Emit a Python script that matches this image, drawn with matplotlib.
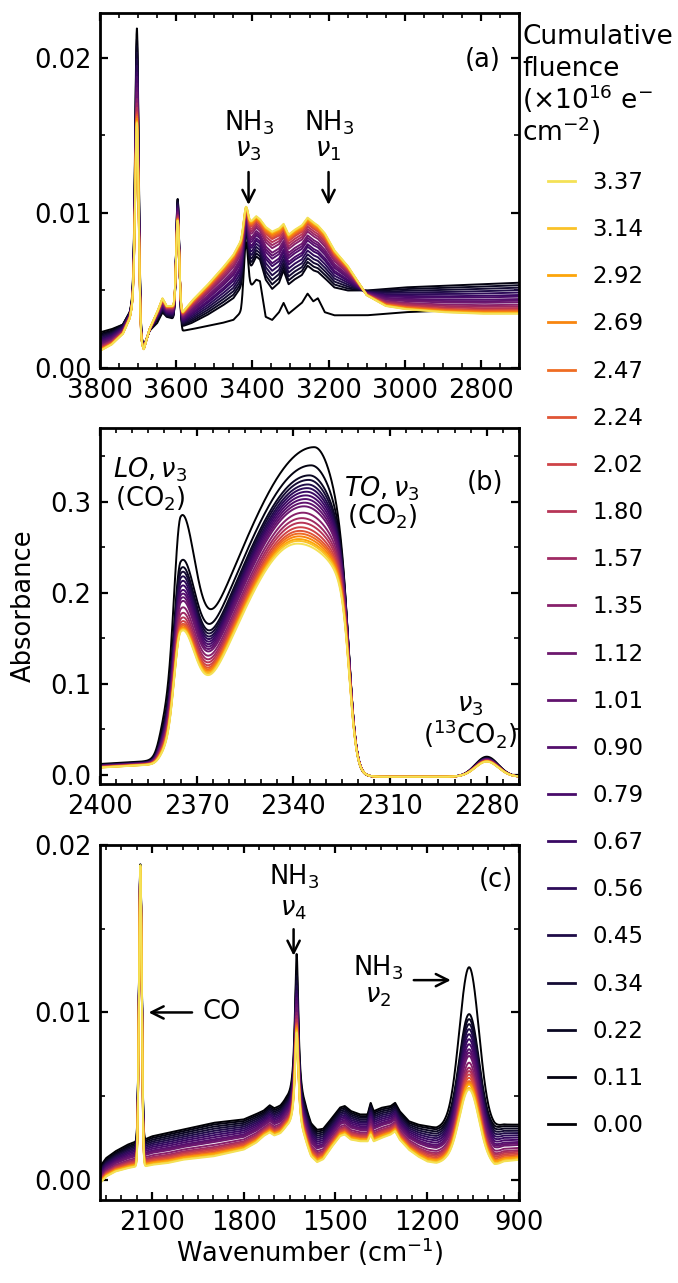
import numpy as np
import matplotlib
matplotlib.use("Agg")
import matplotlib.pyplot as plt
from matplotlib.ticker import MultipleLocator

plt.rcParams['font.family'] = ['DejaVu Sans']
plt.rcParams['mathtext.fontset'] = 'dejavusans'

# ---------------- data ----------------
fluence = [0.00, 0.11, 0.22, 0.34, 0.45, 0.56, 0.67, 0.79, 0.90, 1.01, 1.12,
           1.35, 1.57, 1.80, 2.02, 2.24, 2.47, 2.69, 2.92, 3.14, 3.37]

# panel (a): broad-band level near 3340 cm-1 for each spectrum
band_a = [0.0031, 0.0051, 0.0054, 0.0057, 0.0060, 0.0063, 0.0066, 0.0068, 0.0071,
          0.0073, 0.0075, 0.0078, 0.0080, 0.0082, 0.0084, 0.0085, 0.0086, 0.0087,
          0.0088, 0.00885, 0.0089]
a_knot_x = [3800, 3770, 3740, 3722, 3712, 3703, 3692, 3685, 3670, 3650, 3636, 3625,
            3610, 3596, 3583, 3560, 3520, 3480, 3450, 3430, 3417, 3405, 3390, 3380,
            3365, 3348, 3330, 3318, 3305, 3290, 3270, 3255, 3240, 3228, 3210, 3185,
            3150, 3100, 3050, 3000, 2900, 2800, 2700]
a_black_y = [0.0023, 0.0025, 0.0028, 0.0036, 0.0048, 0.0040, 0.0018, 0.0014, 0.0024,
             0.0029, 0.0036, 0.0034, 0.0033, 0.0033, 0.0024, 0.0025, 0.0027, 0.0029,
             0.0031, 0.0036, 0.0046, 0.0052, 0.0057, 0.0056, 0.0033, 0.0031, 0.0036,
             0.0042, 0.0035, 0.0038, 0.0042, 0.0048, 0.0043, 0.0045, 0.0036, 0.0034,
             0.0034, 0.0034, 0.0035, 0.0036, 0.0037, 0.0037, 0.0037]
a_dark_y = [0.0022, 0.0024, 0.0028, 0.0036, 0.0046, 0.0040, 0.0018, 0.0014, 0.0024,
            0.0031, 0.0036, 0.0033, 0.0032, 0.0032, 0.0027, 0.0029, 0.0034, 0.0040,
            0.0045, 0.0052, 0.0060, 0.0064, 0.0072, 0.0070, 0.0057, 0.0051, 0.0055,
            0.0063, 0.0054, 0.0057, 0.0060, 0.0066, 0.0063, 0.0062, 0.0058, 0.0052,
            0.0050, 0.0050, 0.0051, 0.0052, 0.0053, 0.0054, 0.0055]
a_yellow_y = [0.0011, 0.0015, 0.0022, 0.0032, 0.0044, 0.0040, 0.0016, 0.0012, 0.0025,
              0.0036, 0.0045, 0.0040, 0.0040, 0.0040, 0.0036, 0.0043, 0.0053, 0.0064,
              0.0073, 0.0082, 0.0092, 0.0094, 0.0098, 0.0096, 0.0091, 0.0088, 0.0090,
              0.0093, 0.0086, 0.0089, 0.0092, 0.0097, 0.0094, 0.0092, 0.0087, 0.0076,
              0.0066, 0.0047, 0.0040, 0.0038, 0.0036, 0.0035, 0.0035]
a_peak_x = [3703, 3596, 3417]
a_peak_w = [4.5, 4.0, 5.5]
a_peak_black = [0.0179, 0.0076, 0.0035]
a_peak_dark = [0.0172, 0.0077, 0.0027]
a_peak_yellow = [0.0118, 0.0055, 0.0012]

# panel (b): peak heights of the CO2 nu3 TO and LO modes
to_peak = [0.362, 0.342, 0.331, 0.326, 0.321, 0.317, 0.313, 0.309, 0.305, 0.301,
           0.297, 0.290, 0.284, 0.279, 0.274, 0.270, 0.267, 0.264, 0.261, 0.259, 0.256]
lo_peak = [0.2835, 0.234, 0.226, 0.221, 0.216, 0.211, 0.206, 0.201, 0.197, 0.193,
           0.189, 0.182, 0.176, 0.171, 0.167, 0.164, 0.162, 0.160, 0.159, 0.158, 0.157]

# panel (c): NH3 nu2 / nu4 peak heights
nu2_peak = [0.0126, 0.0099, 0.0096, 0.0093, 0.0090, 0.0087, 0.0084, 0.0081, 0.0078,
            0.0076, 0.0074, 0.0070, 0.0067, 0.0065, 0.0063, 0.0061, 0.0059, 0.0058,
            0.0057, 0.0055, 0.0054]
nu4_peak = [0.0134, 0.0125, 0.0122, 0.0119, 0.0116, 0.0113, 0.0111, 0.0109, 0.0107,
            0.0105, 0.0103, 0.0100, 0.0098, 0.0096, 0.0094, 0.0093, 0.0092, 0.0091,
            0.0090, 0.0089, 0.0088]
c_knot_x = [2270, 2250, 2220, 2180, 2150, 2125, 2100, 2050, 2000, 1950, 1900, 1850,
            1800, 1760, 1735, 1715, 1700, 1680, 1660, 1627, 1600, 1580, 1560, 1540,
            1510, 1485, 1470, 1450, 1420, 1395, 1385, 1375, 1350, 1320, 1305, 1290,
            1260, 1230, 1200, 1170, 1140, 1063, 1000, 980, 950, 900]
c_dark_y = [0.0007, 0.0012, 0.0016, 0.0020, 0.0022, 0.0023, 0.0025, 0.0027, 0.0029,
            0.0031, 0.0033, 0.0034, 0.0035, 0.0038, 0.0040, 0.0043, 0.0041, 0.0042,
            0.0045, 0.0045, 0.0040, 0.0031, 0.0028, 0.0029, 0.0036, 0.0042, 0.0043,
            0.0040, 0.0038, 0.0038, 0.0045, 0.0040, 0.0042, 0.0043, 0.0045, 0.0040,
            0.0034, 0.0032, 0.0031, 0.0030, 0.0031, 0.0031, 0.0030, 0.0030, 0.0032, 0.0032]
c_yellow_y = [-0.0002, 0.0002, 0.0005, 0.0007, 0.0008, 0.0008, 0.0009, 0.0010, 0.0012,
              0.0013, 0.0014, 0.0016, 0.0018, 0.0022, 0.0026, 0.0028, 0.0026, 0.0027,
              0.0030, 0.0030, 0.0022, 0.0013, 0.0010, 0.0012, 0.0020, 0.0026, 0.0027,
              0.0024, 0.0023, 0.0023, 0.0027, 0.0023, 0.0025, 0.0027, 0.0029, 0.0024,
              0.0018, 0.0014, 0.0011, 0.0010, 0.0011, 0.0011, 0.0009, 0.0008, 0.0011, 0.0012]
co_peak = [0.0165, 0.018]

labels = [f"{f:.2f}" for f in fluence]

# ---------------- helpers ----------------
def gauss(x, c, s, a):
    return a * np.exp(-(x - c) ** 2 / (2 * s ** 2))

def agauss(x, c, sl, sr, a):
    s = np.where(x > c, sl, sr)
    return a * np.exp(-(x - c) ** 2 / (2 * s ** 2))

def lorentz(x, c, g, a):
    return a / (1 + ((x - c) / g) ** 2)

def knots(x, kx, ky):
    return np.interp(x, kx[::-1], ky[::-1])

n = len(fluence)
cmap = plt.cm.inferno
colors = [cmap(0.92 * f / fluence[-1]) for f in fluence]
LW = 1.4

FS = 18.5
fig = plt.figure(figsize=(6.78, 12.83), dpi=100)
W, H = 678, 1283
axa = fig.add_axes([100 / W, 1 - 368 / H, 419 / W, 355 / H])
axb = fig.add_axes([100 / W, 1 - 784 / H, 419 / W, 356 / H])
axc = fig.add_axes([100 / W, 1 - 1200 / H, 419 / W, 355 / H])

# ---------------- panel (a) ----------------
xa = np.linspace(3800, 2700, 2500)
wa = [(v - band_a[1]) / (band_a[-1] - band_a[1]) for v in band_a]
for i in range(n):
    if i == 0:
        y = knots(xa, a_knot_x, a_black_y)
        amps = a_peak_black
    else:
        w = wa[i]
        y = knots(xa, a_knot_x, a_dark_y) * (1 - w) + knots(xa, a_knot_x, a_yellow_y) * w
        amps = [d * (1 - w) + yy * w for d, yy in zip(a_peak_dark, a_peak_yellow)]
    for c, s, a in zip(a_peak_x, a_peak_w, amps):
        y = y + gauss(xa, c, s, a)
    axa.plot(xa, y, color=colors[i], lw=LW)
axa.set_xlim(3800, 2700)
axa.set_ylim(0, 0.0229)
axa.xaxis.set_major_locator(MultipleLocator(200))
axa.xaxis.set_minor_locator(MultipleLocator(50))
axa.yaxis.set_major_locator(MultipleLocator(0.01))
axa.yaxis.set_minor_locator(MultipleLocator(0.005))

# ---------------- panel (b) ----------------
xb = np.linspace(2400, 2270, 2000)
wb = [(to_peak[0] - v) / (to_peak[0] - to_peak[-1]) for v in to_peak]

def to_band(x, A, c, sl, sr):
    g = np.where(x > c, np.exp(-(x - c) ** 2 / (2 * sl ** 2)), np.exp(-(x - c) ** 2 / (2 * sr ** 2)))
    cut_l = 1 / (1 + np.exp((x - 2381.5) / 1.0))
    cut_r = 1 / (1 + np.exp(-(x - 2322.5) / 1.2))
    return A * g * cut_l * cut_r

def base_b(x, L):
    s = 1 / (1 + np.exp(-(x - 2381.0) / 1.0))
    lx = L + 0.0002 * (2400 - x)
    return -0.002 + (lx + 0.002) * s

for i in range(n):
    w = wb[i]
    c = 2333.5 + (2338.7 - 2333.5) * w
    sl = 26 + (20 - 26) * w
    sr = 12 + (25 - 12) * w
    L = 0.012 + (0.008 - 0.012) * w
    to = to_band(xb, to_peak[i], c, sl, sr)
    base = base_b(xb, L)
    x0 = np.array([2375.0])
    B = lo_peak[i] - to_band(x0, to_peak[i], c, sl, sr)[0] - base_b(x0, L)[0]
    y = (base + to + agauss(xb, 2375, 2.0, 4.2, B)
         + gauss(xb, 2280, 3.6, 0.022 + (0.0166 - 0.022) * w))
    axb.plot(xb, y, color=colors[i], lw=LW)
axb.set_xlim(2400, 2270)
axb.set_ylim(-0.01, 0.381)
axb.xaxis.set_major_locator(MultipleLocator(30))
axb.xaxis.set_minor_locator(MultipleLocator(5))
axb.yaxis.set_major_locator(MultipleLocator(0.1))
axb.yaxis.set_minor_locator(MultipleLocator(0.05))

# ---------------- panel (c) ----------------
xc = np.linspace(2270, 900, 3000)
wc = [0.0] + [(nu2_peak[1] - v) / (nu2_peak[1] - nu2_peak[-1]) for v in nu2_peak[1:]]
for i in range(n):
    w = wc[i]
    mix_y = np.array(c_dark_y) * (1 - w) + np.array(c_yellow_y) * w
    base = knots(xc, c_knot_x, mix_y)
    if i == 0:
        base = base + 0.0001
    b1063 = knots(np.array([1063.0]), c_knot_x, mix_y)[0]
    b1627 = knots(np.array([1627.0]), c_knot_x, mix_y)[0]
    y = (base + gauss(xc, 1063, 32, nu2_peak[i] - b1063)
         + lorentz(xc, 1627, 7, nu4_peak[i] - b1627)
         + gauss(xc, 2138, 4.5, co_peak[0] + (co_peak[1] - co_peak[0]) * fluence[i] / fluence[-1]))
    axc.plot(xc, y, color=colors[i], lw=LW)
axc.set_xlim(2270, 900)
axc.set_ylim(-0.0012, 0.02)
axc.xaxis.set_major_locator(MultipleLocator(300))
axc.xaxis.set_minor_locator(MultipleLocator(50))
axc.yaxis.set_major_locator(MultipleLocator(0.01))
axc.yaxis.set_minor_locator(MultipleLocator(0.005))

# ---------------- axes styling ----------------
for ax in (axa, axb, axc):
    ax.tick_params(which='both', direction='in', top=True, right=True,
                   labelsize=FS, pad=6)
    ax.tick_params(axis='x', which='both', pad=7.5)
    ax.tick_params(which='major', length=6, width=1.6)
    ax.tick_params(which='minor', length=3.5, width=1.2)
    for sp in ax.spines.values():
        sp.set_linewidth(2)

# ---------------- annotations ----------------
arrow = dict(arrowstyle='->', lw=1.8, mutation_scale=22, shrinkA=0, shrinkB=0, color='black')

# (a)
axa.text(0.955, 0.868, '(a)', transform=axa.transAxes, ha='right', va='center', fontsize=FS)
for xpos, sub in ((3410, '3'), (3200, '1')):
    axa.text(xpos, 0.01534, 'NH$_3$', ha='center', va='baseline', fontsize=FS)
    axa.text(xpos, 0.01363, r'$\nu_%s$' % sub, ha='center', va='baseline', fontsize=FS)
    axa.annotate('', xy=(xpos, 0.01052), xytext=(xpos, 0.01264), arrowprops=arrow)

# (b)
axb.text(0.962, 0.845, '(b)', transform=axb.transAxes, ha='right', va='center', fontsize=FS)
axb.text(2384.4, 0.3264, r'$LO, \nu_3$', ha='center', va='baseline', fontsize=FS)
axb.text(2384.4, 0.2949, '(CO$_2$)', ha='center', va='baseline', fontsize=FS)
axb.text(2312.5, 0.3058, r'$TO, \nu_3$', ha='center', va='baseline', fontsize=FS)
axb.text(2312.5, 0.2747, '(CO$_2$)', ha='center', va='baseline', fontsize=FS)
axb.text(2285.2, 0.0696, r'$\nu_3$', ha='center', va='baseline', fontsize=FS)
axb.text(2285.0, 0.0348, '($^{13}$CO$_2$)', ha='center', va='baseline', fontsize=FS)

# (c)
axc.text(0.986, 0.901, '(c)', transform=axc.transAxes, ha='right', va='center', fontsize=FS)
axc.text(1637, 0.01766, 'NH$_3$', ha='center', va='baseline', fontsize=FS)
axc.text(1637, 0.01577, r'$\nu_4$', ha='center', va='baseline', fontsize=FS)
axc.annotate('', xy=(1637, 0.01339), xytext=(1637, 0.01497), arrowprops=arrow)
axc.text(1362, 0.01218, 'NH$_3$', ha='center', va='baseline', fontsize=FS)
axc.text(1362, 0.0106, r'$\nu_2$', ha='center', va='baseline', fontsize=FS)
axc.annotate('', xy=(1123, 0.01193), xytext=(1244, 0.01193), arrowprops=arrow)
axc.annotate('', xy=(2111, 0.0100), xytext=(1969, 0.0100), arrowprops=arrow)
axc.text(1936, 0.0100, 'CO', ha='left', va='center', fontsize=FS)

# axis labels
fig.text(24 / W, 1 - 606 / H, 'Absorbance', rotation=90, ha='center', va='center', fontsize=FS)
fig.text(310 / W, 1 - 1262 / H, 'Wavenumber (cm$^{-1}$)', ha='center', va='baseline', fontsize=FS)

# legend title
title_lines = ['Cumulative', 'fluence', r'($\times$10$^{16}$ e$^{-}$', 'cm$^{-2}$)']
title_base = [44, 76, 109, 141]
for t, yb in zip(title_lines, title_base):
    fig.text(522 / W, 1 - yb / H, t, ha='left', va='baseline', fontsize=19)

handles = axb.get_lines()
leg = fig.legend(handles[::-1], labels[::-1], loc='upper left',
                 bbox_to_anchor=(548 / W, 1 - 171 / H), bbox_transform=fig.transFigure,
                 frameon=False, fontsize=16.5, handlelength=1.18, handletextpad=0.74,
                 labelspacing=1.054, borderpad=0, borderaxespad=0)
for l in leg.get_lines():
    l.set_linewidth(2)

fig.savefig('out.png', dpi=100)
